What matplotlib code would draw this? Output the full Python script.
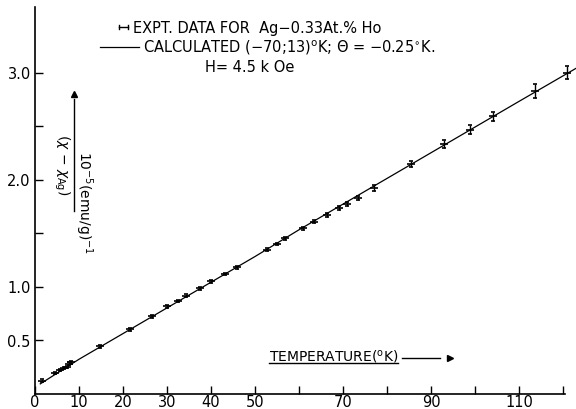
import matplotlib
matplotlib.use("Agg")
import matplotlib.pyplot as plt
from matplotlib.lines import Line2D

# ---- data ----
temp_expt = [1.7, 4.6, 5.7, 6.5, 7.2, 7.8, 8.1, 14.8, 21.6, 26.6, 30.0, 32.4, 34.4,
             37.4, 40.0, 43.1, 45.9, 52.8, 54.9, 56.8, 60.8, 63.4, 66.4, 69.1, 70.8,
             73.4, 77.1, 85.4, 93.0, 98.9, 104.0, 113.7, 121.0]
inv_chi_expt = [0.12, 0.19, 0.22, 0.235, 0.25, 0.28, 0.29, 0.44, 0.60, 0.72, 0.815,
                0.865, 0.914, 0.983, 1.049, 1.117, 1.18, 1.344, 1.397, 1.45, 1.544,
                1.606, 1.668, 1.73, 1.771, 1.824, 1.92, 2.145, 2.33, 2.465, 2.59,
                2.83, 3.0]
err_expt = [0.012, 0.01, 0.01, 0.01, 0.01, 0.01, 0.01, 0.012, 0.012, 0.012, 0.012,
            0.012, 0.012, 0.012, 0.012, 0.012, 0.012, 0.012, 0.012, 0.012, 0.015,
            0.015, 0.015, 0.018, 0.02, 0.02, 0.025, 0.03, 0.035, 0.04, 0.045,
            0.065, 0.06]

temp_calc = [1.2, 10, 20, 30, 40, 50, 60, 70, 80, 90, 100, 110, 123]
inv_chi_calc = [0.09, 0.32, 0.56, 0.80, 1.04, 1.28, 1.53, 1.77, 2.01, 2.25, 2.49, 2.73, 3.04]

x_ticks = [0, 10, 20, 30, 40, 50, 60, 70, 80, 90, 100, 110, 120]
x_ticklabels = ['0', '10', '20', '30', '40', '50', '', '70', '', '90', '', '110', '']
y_ticks = [0.5, 1.0, 1.5, 2.0, 2.5, 3.0]
y_ticklabels = ['0.5', '1.0', '', '2.0', '', '3.0']

W, H = 576, 410
fig = plt.figure(figsize=(W / 100, H / 100), dpi=100)
plt.rcParams['font.family'] = ['DejaVu Sans']

def fx(px):
    return px / W

def fy(py):
    return 1 - py / H

x0, y0, ytop = 35, 394.5, 8
ax = fig.add_axes([fx(x0), fy(y0), 1 - fx(x0), (y0 - ytop) / H])
ax.set_xlim(0, (W - x0) / 4.40)
ax.set_ylim(0, (y0 - ytop) / 107.0)

ax.plot(temp_calc, inv_chi_calc, color='black', lw=0.9, zorder=2)
ax.errorbar(temp_expt, inv_chi_expt, yerr=err_expt, fmt='_', color='black',
            ms=6, mew=1.2, elinewidth=1.0, capsize=1.5, capthick=1.0, zorder=3)

for s in ['top', 'right']:
    ax.spines[s].set_visible(False)
for s in ['left', 'bottom']:
    ax.spines[s].set_linewidth(1.2)
ax.spines['bottom'].set_bounds(0, 120.5)

ax.set_xticks(x_ticks)
ax.set_xticklabels(x_ticklabels)
ax.set_yticks(y_ticks)
ax.set_yticklabels(y_ticklabels)
ax.tick_params(direction='in', length=6, width=1.0, labelsize=10.5)
ax.tick_params(axis='x', pad=0.5)
ax.tick_params(axis='y', pad=3)

# legend-like annotations
fs = 10.5
fig.text(fx(133), fy(28), 'EXPT. DATA FOR  Ag\u22120.33At.% Ho', fontsize=fs, va='center', ha='left')
fig.add_artist(Line2D([fx(119), fx(128)], [fy(28), fy(28)], color='black', lw=1.0))
fig.add_artist(Line2D([fx(119), fx(119)], [fy(26), fy(30)], color='black', lw=1.0))
fig.add_artist(Line2D([fx(128), fx(128)], [fy(26), fy(30)], color='black', lw=1.0))

fig.text(fx(143), fy(48), 'CALCULATED (\u221270;13)$^{\\mathrm{o}}$K; \u0398 = \u22120.25$^{\\circ}$K.',
         fontsize=fs, va='center', ha='left')
fig.add_artist(Line2D([fx(100), fx(139)], [fy(48), fy(48)], color='black', lw=0.9))

fig.text(fx(205), fy(67), 'H= 4.5 k Oe', fontsize=fs, va='center', ha='left')

# x axis label with underline and arrow
fig.text(fx(269), fy(357), 'TEMPERATURE($^{\\mathrm{o}}$K)', fontsize=10, va='center', ha='left')
fig.add_artist(Line2D([fx(269), fx(398)], [fy(364), fy(364)], color='black', lw=1.0))
fig.add_artist(Line2D([fx(402), fx(440)], [fy(359), fy(359)], color='black', lw=1.0))
fig.add_artist(Line2D([fx(450)], [fy(359)], color='black', marker='>', ms=5, lw=0))

# y axis label: rotated fraction with arrow
fig.text(fx(62), fy(165), '($\\chi$ \u2212 $\\chi_{\\mathrm{Ag}}$)', rotation=-90, fontsize=10,
         va='center', ha='center')
fig.text(fx(84), fy(203), '10$^{-5}$(emu/g)$^{-1}$', rotation=-90, fontsize=10,
         va='center', ha='center')
fig.add_artist(Line2D([fx(74), fx(74)], [fy(212), fy(100)], color='black', lw=1.0))
fig.add_artist(Line2D([fx(74)], [fy(95)], color='black', marker='^', ms=5, lw=0))

fig.savefig('out.png', dpi=100)
